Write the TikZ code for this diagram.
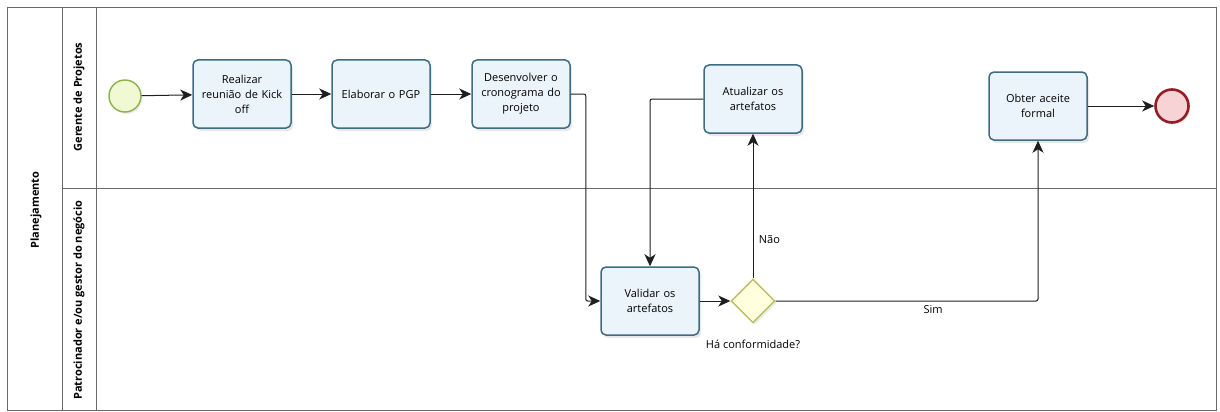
\documentclass[tikz,border=0pt]{standalone}
\usepackage{fontspec}
\setmainfont{Open Sans}
\usetikzlibrary{arrows.meta,shapes.geometric,shadows}
\definecolor{poolline}{RGB}{105,105,105}
\definecolor{taskfill}{RGB}{236,244,251}
\definecolor{taskdraw}{RGB}{62,108,128}
\definecolor{startfill}{RGB}{241,248,212}
\definecolor{startdraw}{RGB}{138,178,72}
\definecolor{endfill}{RGB}{246,212,214}
\definecolor{enddraw}{RGB}{150,28,38}
\definecolor{gwfill}{RGB}{255,255,222}
\definecolor{gwdraw}{RGB}{188,188,96}
\definecolor{flow}{RGB}{30,30,30}
\tikzset{
  every node/.style={font=\fontsize{11}{15}\selectfont},
  task/.style={rectangle, rounded corners=5pt, draw=taskdraw, line width=1.5pt,
    fill=taskfill, minimum width=98pt, minimum height=68pt, align=center,
    text width=96pt, inner sep=1pt,
    drop shadow={shadow xshift=2pt, shadow yshift=-3pt, opacity=0.18, fill=gray}},
  startev/.style={circle, draw=startdraw, fill=startfill, line width=1.4pt,
    minimum size=32pt, inner sep=0pt,
    drop shadow={shadow xshift=1.5pt, shadow yshift=-2pt, opacity=0.15, fill=gray}},
  endev/.style={circle, draw=enddraw, fill=endfill, line width=2.6pt,
    minimum size=33pt, inner sep=0pt,
    drop shadow={shadow xshift=1.5pt, shadow yshift=-2pt, opacity=0.15, fill=gray}},
  gateway/.style={diamond, draw=gwdraw, fill=gwfill, line width=1.4pt,
    minimum width=44pt, minimum height=44pt, inner sep=0pt,
    drop shadow={shadow xshift=2pt, shadow yshift=-2pt, opacity=0.15, fill=gray}},
  seqflow/.style={draw=flow, line width=1pt, rounded corners=2pt,
    -{Stealth[length=12pt,width=11pt,inset=3.5pt]}},
  lanelabel/.style={rotate=90, font=\fontsize{11}{13}\selectfont\bfseries},
  flowlabel/.style={font=\fontsize{11}{12}\selectfont}
}
\begin{document}
\begin{tikzpicture}[x=1pt,y=-1pt]
\useasboundingbox (0,0) rectangle (1220,412);

% pool and lanes
\draw[poolline, line width=0.8pt] (7,7) rectangle (1216,410);
\draw[poolline, line width=0.8pt] (62,7) -- (62,410);
\draw[poolline, line width=0.8pt] (96,7) -- (96,410);
\draw[poolline, line width=0.8pt] (62,188) -- (1216,188);
\node[lanelabel] (pool) at (36,210) {Planejamento};
\node[lanelabel] (lane1) at (79,97) {Gerente de Projetos};
\node[lanelabel] (lane2) at (79,300) {Patrocinador e/ou gestor do negócio};

% flow objects
\node[startev] (start) at (125,96) {};
\node[task] (kick) at (242,94) {Realizar\\reunião de Kick\\off};
\node[task] (pgp) at (381,94) {Elaborar o PGP};
\node[task] (crono) at (521,94) {Desenvolver o\\cronograma do\\projeto};
\node[task] (upd) at (753,99) {Atualizar os\\artefatos};
\node[task] (val) at (650,301) {Validar os\\artefatos};
\node[gateway] (gw) at (753,301) {};
\node[flowlabel] (gwlabel) at (753,344) {Há conformidade?};
\node[task] (acc) at (1038,106) {Obter aceite\\formal};
\node[endev] (finish) at (1172,106) {};

% sequence flows
\draw[seqflow] (start) -- (kick);
\draw[seqflow] (kick) -- (pgp);
\draw[seqflow] (pgp) -- (crono);
\draw[seqflow] (crono.east) -- ++(15,0) |- (val.west);
\draw[seqflow] (upd.west) -| (val.north);
\draw[seqflow] (val) -- (gw);
\draw[seqflow] (gw.north) -- node[flowlabel, pos=0.27, right=2pt] (nao) {Não} (upd.south);
\draw[seqflow] (gw.east) -| node[flowlabel, pos=0.3, below=1pt] (sim) {Sim} (acc.south);
\draw[seqflow] (acc) -- (finish);
\end{tikzpicture}
\end{document}
